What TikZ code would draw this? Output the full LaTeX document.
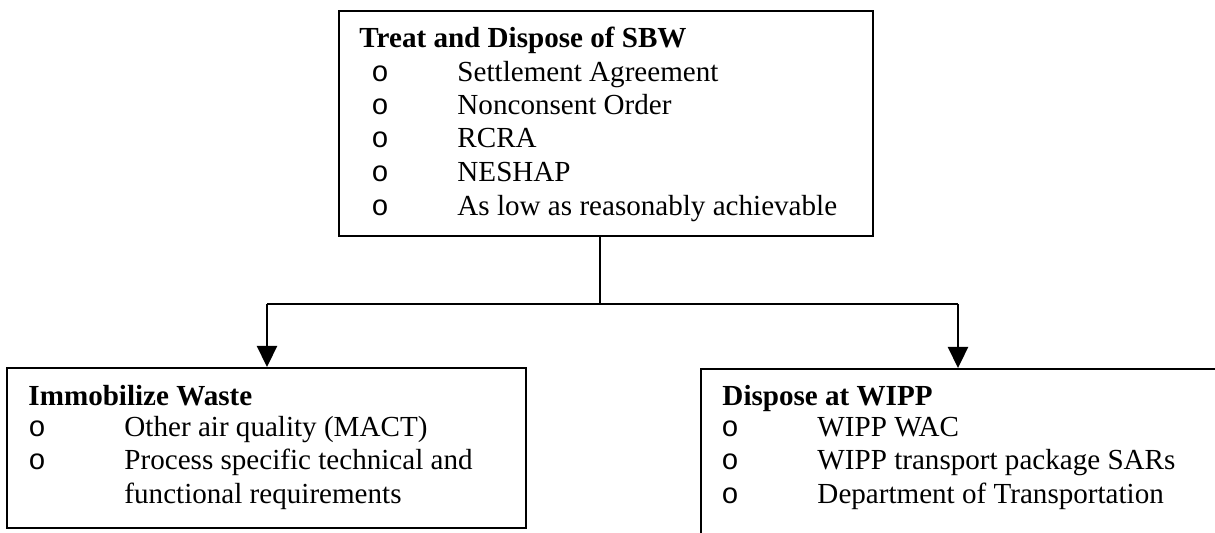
\documentclass[tikz,border=0pt]{standalone}
\usepackage{fontspec}
\setmainfont{Liberation Serif}
\newfontfamily\bulletfont{Liberation Mono}
\usetikzlibrary{arrows.meta,fit}

\tikzset{
  box/.style={draw=black, line width=0.8pt, inner sep=0pt},
  head/.style={anchor=base west, inner sep=0pt, font=\fontsize{12}{13.8}\selectfont\bfseries},
  item/.style={anchor=base west, inner sep=0pt, font=\fontsize{12}{13.8}\selectfont},
  dot/.style={anchor=base west, inner sep=0pt, font=\fontsize{12}{13.8}\bulletfont},
  link/.style={line width=0.8pt},
  arrowlink/.style={line width=0.8pt, -{Triangle[length=8.7pt,width=8.3pt]}}
}

\begin{document}
\begin{tikzpicture}[x=0.4125pt, y=-0.4125pt]
  \useasboundingbox (0,0) rectangle (1215,533);
  \clip (0,0) rectangle (1215,533);

  % boxes
  \node[box, fit={(339,11) (873,236)}] (top) {};
  \node[box, fit={(7,368) (526,528)}] (left) {};
  \node[box, fit={(701,369) (1240,560)}] (right) {};

  % top box text
  \node[head] (t0) at (359,48) {Treat and Dispose of SBW};
  \node[dot] (tb1) at (371,82) {o};
  \node[item] (t1) at (457,82) {Settlement Agreement};
  \node[dot] (tb2) at (371,115) {o};
  \node[item] (t2) at (457,115) {Nonconsent Order};
  \node[dot] (tb3) at (371,148) {o};
  \node[item] (t3) at (457,148) {RCRA};
  \node[dot] (tb4) at (371,182) {o};
  \node[item] (t4) at (457,182) {NESHAP};
  \node[dot] (tb5) at (371,216) {o};
  \node[item] (t5) at (457,216) {As low as reasonably achievable};

  % left box text
  \node[head] (l0) at (28,406) {Immobilize Waste};
  \node[dot] (lb1) at (28,437) {o};
  \node[item] (l1) at (124,437) {Other air quality (MACT)};
  \node[dot] (lb2) at (28,470) {o};
  \node[item] (l2) at (124,470) {Process specific technical and};
  \node[item] (l3) at (124,504) {functional requirements};

  % right box text
  \node[head] (r0) at (722,406) {Dispose at WIPP};
  \node[dot] (rb1) at (721,437) {o};
  \node[item] (r1) at (817,437) {WIPP WAC};
  \node[dot] (rb2) at (721,470) {o};
  \node[item] (r2) at (817,470) {WIPP transport package SARs};
  \node[dot] (rb3) at (721,504) {o};
  \node[item] (r3) at (817,504) {Department of Transportation};

  % connectors
  \coordinate (jm) at (600,304);
  \coordinate (jl) at (267,304);
  \coordinate (jr) at (958,304);
  \draw[link] (jm |- top.south) -- (jm);
  \draw[link] (jl) -- (jr);
  \draw[arrowlink] (jl) -- (jl |- left.north);
  \draw[arrowlink] (jr) -- (jr |- right.north);
\end{tikzpicture}
\end{document}
